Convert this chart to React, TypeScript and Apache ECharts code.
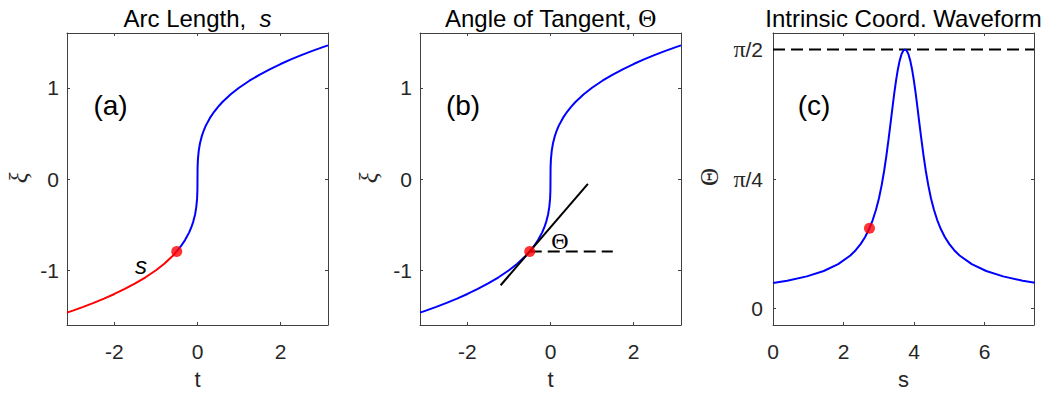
import React, { useEffect, useRef } from "react";
import * as echarts from "echarts";

// ---- data ---------------------------------------------------------------
// curve xi(t), sampled densely near the vertical inflection at t = 0
const curveT = [
  -3.1416, -3, -2.75, -2.5, -2.25, -2, -1.75, -1.5, -1.25, -1, -0.8, -0.6, -0.5,
  -0.4, -0.3, -0.2, -0.15, -0.1, -0.06, -0.03, -0.01, -0.002, 0, 0.002, 0.01,
  0.03, 0.06, 0.1, 0.15, 0.2, 0.3, 0.4, 0.5, 0.6, 0.8, 1, 1.25, 1.5, 1.75, 2,
  2.25, 2.5, 2.75, 3, 3.1416,
];
const curveXi = [
  -1.4646, -1.4422, -1.401, -1.3572, -1.3104, -1.2599, -1.2051, -1.1447,
  -1.0772, -1, -0.9283, -0.8434, -0.7937, -0.7368, -0.6694, -0.5848, -0.5313,
  -0.4642, -0.3915, -0.3107, -0.2154, -0.126, 0, 0.126, 0.2154, 0.3107, 0.3915,
  0.4642, 0.5313, 0.5848, 0.6694, 0.7368, 0.7937, 0.8434, 0.9283, 1, 1.0772,
  1.1447, 1.2051, 1.2599, 1.3104, 1.3572, 1.401, 1.4422, 1.4646,
];

// the marked point on the curve
const markT = -0.5;
const markXi = -0.7937;
const markS = 2.7352;
const markTheta = 0.4867;

// tangent line through the marked point and the horizontal reference
const tangentT = [-1.2, 0.9];
const tangentXi = [-1.1641, -0.0529];
const horizT = [-0.5, 1.5];
const horizXi = [-0.7937, -0.7937];

// tangent angle Theta against arc length s
const waveS = [
  0, 0.4028, 0.9589, 1.4385, 1.8479, 2.1937, 2.3449, 2.4826, 2.6079, 2.7217,
  2.8247, 2.9181, 3.0029, 3.0799, 3.1504, 3.2153, 3.2757, 3.3327, 3.387,
  3.4394, 3.4907, 3.5413, 3.5915, 3.6416, 3.6916, 3.7416, 3.7916, 3.8416,
  3.8917, 3.9419, 3.9925, 4.0438, 4.0962, 4.1505, 4.2075, 4.2679, 4.3328,
  4.4033, 4.4803, 4.5651, 4.6585, 4.7615, 4.8753, 5.0006, 5.1383, 5.2895,
  5.6353, 6.0447, 6.5243, 7.0804, 7.4832,
];
const waveTheta = [
  0.1542, 0.1685, 0.1948, 0.2275, 0.2688, 0.3218, 0.3537, 0.3907, 0.4323,
  0.4802, 0.5349, 0.5974, 0.6676, 0.747, 0.8339, 0.9273, 1.025, 1.1233, 1.2185,
  1.3071, 1.3854, 1.4514, 1.5034, 1.5408, 1.5633, 1.5708, 1.5633, 1.5408,
  1.5034, 1.4514, 1.3854, 1.3071, 1.2185, 1.1233, 1.025, 0.9273, 0.8339, 0.747,
  0.6676, 0.5974, 0.5349, 0.4802, 0.4323, 0.3907, 0.3537, 0.3218, 0.2688,
  0.2275, 0.1948, 0.1685, 0.1542,
];
const limitS = [0, 7.4];
const limitTheta = [Math.PI / 2, Math.PI / 2];

// axis ranges and ticks
const tRange = [-Math.PI, Math.PI];
const xiRange = [-1.6, 1.6];
const sRange = [0, 7.4];
const thetaRange = [-0.1, Math.PI / 2 + 0.1];
const tTicks = [-2, 0, 2];
const xiTicks = [-1, 0, 1];
const sTicks = [0, 2, 4, 6];
const thetaTicks = [0, Math.PI / 4, Math.PI / 2];
const thetaTickLabels = ["0", "π/4", "π/2"];

const titles = ["Arc Length,  {i|s}", "Angle of Tangent, {th|Θ}", "Intrinsic Coord. Waveform"];
const panelTags = ["(a)", "(b)", "(c)"];

// ---- styling ------------------------------------------------------------
const SANS = "'Liberation Sans', Arial, Helvetica, sans-serif";
const SERIF = "'Liberation Serif', 'Times New Roman', serif";
const INK = "#262626";
const FRAME = "#404040";
const BLUE = "#0000ff";
const RED = "#ff0000";
const DASH = [12, 6];

const boxes = [
  { left: 67, top: 33, width: 261, height: 292 },
  { left: 420, top: 33, width: 261, height: 292 },
  { left: 773, top: 33, width: 261, height: 292 },
];

const zip = (a: number[], b: number[]) => a.map((v, i) => [v, b[i]]);

function axisPair(
  dim: "x" | "y",
  gridIndex: number,
  range: number[],
  ticks: number[],
  labelExtra: any
) {
  const base = {
    type: "value",
    gridIndex,
    min: range[0],
    max: range[1],
    splitLine: { show: false },
    axisLine: { show: true, onZero: false, lineStyle: { color: FRAME, width: 1 } },
    axisTick: {
      show: true,
      inside: true,
      length: 3,
      customValues: ticks,
      lineStyle: { color: FRAME, width: 1 },
    },
  };
  const main = {
    ...base,
    position: dim === "x" ? "bottom" : "left",
    axisLabel: {
      show: true,
      customValues: ticks,
      color: INK,
      fontFamily: SANS,
      fontSize: 21,
      ...labelExtra,
    },
  };
  const other = {
    ...base,
    position: dim === "x" ? "top" : "right",
    axisLabel: { show: false },
  };
  return [main, other];
}

function txt(text: string, x: number, y: number, size: number, extra: any = {}, rot = 0) {
  return {
    type: "text",
    x,
    y,
    rotation: rot,
    silent: true,
    style: {
      text,
      align: "center",
      verticalAlign: "middle",
      fill: "#000",
      fontFamily: SANS,
      fontSize: size,
      ...extra,
    },
  };
}

function buildOption() {
  const xAxis = [
    ...axisPair("x", 0, tRange, tTicks, { margin: 16 }),
    ...axisPair("x", 1, tRange, tTicks, { margin: 16 }),
    ...axisPair("x", 2, sRange, sTicks, { margin: 16 }),
  ];
  const yAxis = [
    ...axisPair("y", 0, xiRange, xiTicks, { margin: 8 }),
    ...axisPair("y", 1, xiRange, xiTicks, { margin: 8 }),
    ...axisPair("y", 2, thetaRange, thetaTicks, {
      margin: 10,
      formatter: (v: number) => {
        const i = thetaTicks.findIndex((x) => Math.abs(x - v) < 1e-6);
        const lbl = i >= 0 ? thetaTickLabels[i] : "";
        return lbl.replace("π", "{pi|π}");
      },
      rich: { pi: { fontFamily: SERIF, fontSize: 24, color: INK } },
    }),
  ];

  const line = (xi: number, data: number[][], color: string, width = 2, type: any = "solid") => ({
    type: "line",
    xAxisIndex: xi,
    yAxisIndex: xi,
    data,
    symbol: "none",
    smooth: false,
    silent: true,
    lineStyle: { color, width, type, cap: "butt" },
  });
  const dot = (xi: number, data: number[][]) => ({
    type: "scatter",
    xAxisIndex: xi,
    yAxisIndex: xi,
    data,
    symbol: "circle",
    symbolSize: 11,
    silent: true,
    itemStyle: { color: RED },
    z: 5,
  });

  const full = zip(curveT, curveXi);
  const before = full.filter((p) => p[0] <= markT);
  const after = full.filter((p) => p[0] >= markT);

  const series = [
    // (a) arc length up to the marked point
    line(0, after, BLUE),
    line(0, before, RED),
    dot(0, [[markT, markXi]]),
    // (b) tangent angle
    line(2, full, BLUE),
    line(2, zip(tangentT, tangentXi), "#000", 2),
    line(2, zip(horizT, horizXi), "#000", 2, DASH),
    dot(2, [[markT, markXi]]),
    // (c) intrinsic waveform
    line(4, zip(limitS, limitTheta), "#000", 2, DASH),
    line(4, zip(waveS, waveTheta), BLUE),
    dot(4, [[markS, markTheta]]),
  ];

  const centers = boxes.map((b) => b.left + b.width / 2);
  const graphic = [
    ...titles.map((t, i) =>
      txt(t, centers[i], 18, 24, {
        fill: "#000",
        rich: {
          i: { fontStyle: "italic", fontFamily: SANS, fontSize: 24, fill: "#000" },
          th: { fontFamily: SERIF, fontSize: 25, fill: "#000" },
        },
      })
    ),
    txt(panelTags[0], 110.5, 105, 28),
    txt(panelTags[1], 463, 105, 28),
    txt(panelTags[2], 814, 105, 28),
    txt("t", centers[0], 379, 22, { fill: INK }),
    txt("t", centers[1], 379, 22, { fill: INK }),
    txt("s", centers[2], 379, 22, { fill: INK }),
    txt("ξ", 18, 178, 25, { fill: INK, fontFamily: SERIF, fontStyle: "italic" }, Math.PI / 2),
    txt("ξ", 368, 178, 25, { fill: INK, fontFamily: SERIF, fontStyle: "italic" }, Math.PI / 2),
    txt("Θ", 709, 177, 25, { fill: INK, fontFamily: SERIF }, Math.PI / 2),
    txt("s", 141, 265, 24, { fontStyle: "italic" }),
    txt("Θ", 560, 240.5, 24, { fontFamily: SERIF }),
  ];

  return {
    animation: false,
    backgroundColor: "#ffffff",
    grid: boxes.map((b) => ({ ...b, show: false, containLabel: false })),
    xAxis,
    yAxis,
    series,
    graphic,
  };
}

export default function App() {
  const ref = useRef<HTMLDivElement>(null);
  useEffect(() => {
    if (!ref.current) return;
    const chart = echarts.init(ref.current, null, { renderer: "svg" });
    chart.setOption(buildOption() as any);
    return () => chart.dispose();
  }, []);
  return (
    <div
      ref={ref}
      style={{ position: "fixed", left: 0, top: 0, width: 1047, height: 394, background: "#fff" }}
    />
  );
}
